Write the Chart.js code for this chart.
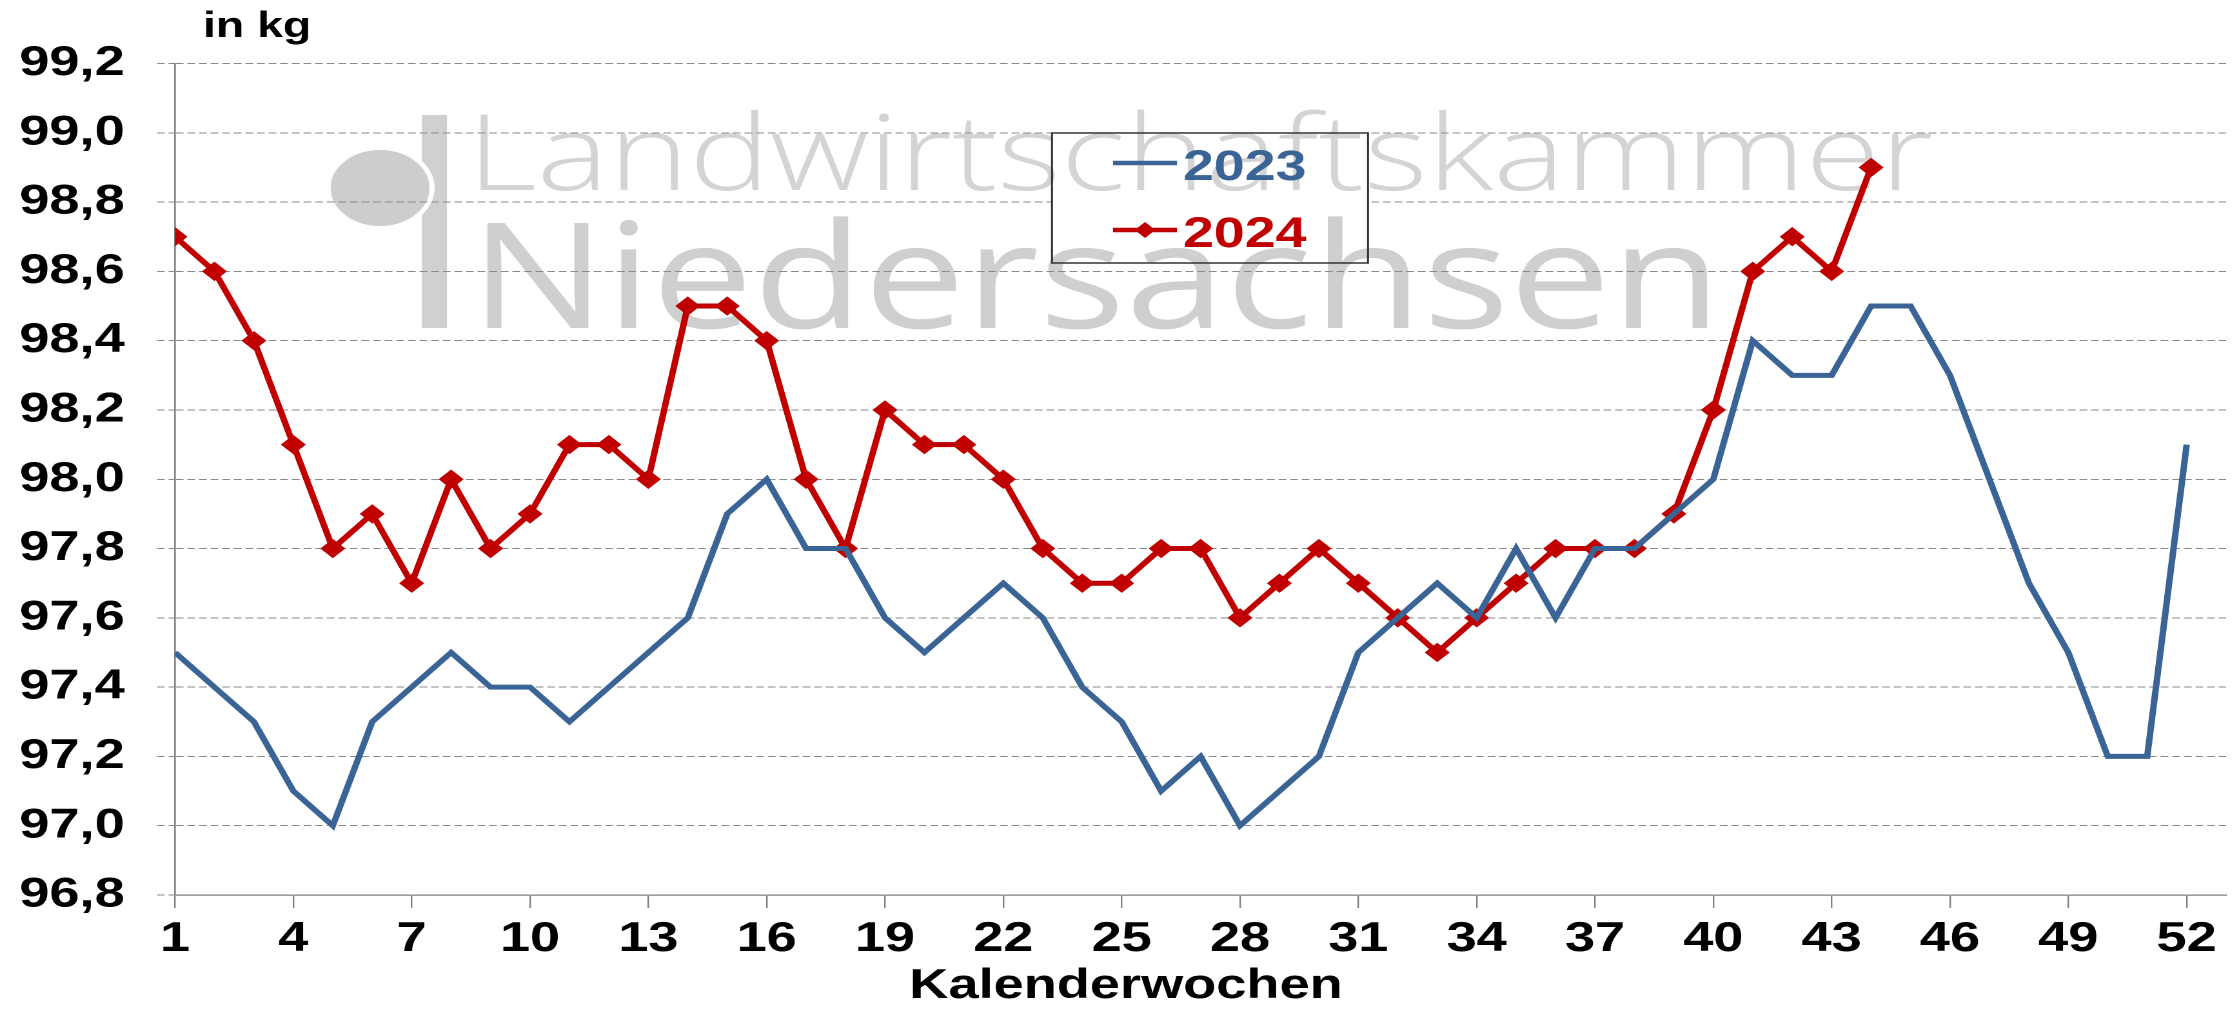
<!DOCTYPE html>
<html>
<head>
<meta charset="utf-8">
<script src="https://cdn.jsdelivr.net/npm/chart.js@4/dist/chart.umd.min.js"></script>
<style>
  html, body { margin: 0; padding: 0; background: #ffffff; overflow: hidden; }
  #c { display: block; width: 2239px; height: 1009px; }
</style>
</head>
<body>
<canvas id="c" width="1736" height="1009" style="width:2239px;height:1009px;"></canvas>
<script>
// ---------------- data ----------------
const weeks = [1,2,3,4,5,6,7,8,9,10,11,12,13,14,15,16,17,18,19,20,21,22,23,24,25,26,
               27,28,29,30,31,32,33,34,35,36,37,38,39,40,41,42,43,44,45,46,47,48,49,50,51,52];
const values2023 = [97.5,97.4,97.3,97.1,97.0,97.3,97.4,97.5,97.4,97.4,97.3,97.4,97.5,97.6,97.9,98.0,
                    97.8,97.8,97.6,97.5,97.6,97.7,97.6,97.4,97.3,97.1,97.2,97.0,97.1,97.2,97.5,97.6,
                    97.7,97.6,97.8,97.6,97.8,97.8,97.9,98.0,98.4,98.3,98.3,98.5,98.5,98.3,98.0,97.7,
                    97.5,97.2,97.2,98.1];
const values2024 = [98.7,98.6,98.4,98.1,97.8,97.9,97.7,98.0,97.8,97.9,98.1,98.1,98.0,98.5,98.5,98.4,
                    98.0,97.8,98.2,98.1,98.1,98.0,97.8,97.7,97.7,97.8,97.8,97.6,97.7,97.8,97.7,97.6,
                    97.5,97.6,97.7,97.8,97.8,97.8,97.9,98.2,98.6,98.7,98.6,98.9];
const seriesLabels = ['2023', '2024'];
const xTickLabels = ['1','4','7','10','13','16','19','22','25','28','31','34','37','40','43','46','49','52'];
const yTickLabels = ['96,8','97,0','97,2','97,4','97,6','97,8','98,0','98,2','98,4','98,6','98,8','99,0','99,2'];
const unitLabel = 'in kg';
const xAxisTitle = 'Kalenderwochen';
const watermarkLine1 = 'Landwirtschaftskammer';
const watermarkLine2 = 'Niedersachsen';

// ---------------- geometry (picture is horizontally stretched) ----------------
const CANVAS_W = 1736, CANVAS_H = 1009;
const S = 2239 / CANVAS_W;          // horizontal stretch factor
const fx = v => v / S;               // full-picture x -> logical x

const BLUE = '#3b6496';
const RED = '#c00000';
const FONT = '"Liberation Sans", Arial, sans-serif';

function fitText(ctx, text, font, x1, x2, baseline, color) {
  ctx.save();
  ctx.font = font;
  ctx.textAlign = 'left';
  ctx.textBaseline = 'alphabetic';
  const m = ctx.measureText(text);
  const inkW = m.actualBoundingBoxLeft + m.actualBoundingBoxRight;
  const sx = (x2 - x1) / inkW;
  ctx.translate(x1, baseline);
  ctx.scale(sx, 1);
  ctx.fillStyle = color;
  ctx.fillText(text, m.actualBoundingBoxLeft, 0);
  ctx.restore();
}

function drawWatermark(ctx) {
  ctx.save();
  ctx.fillStyle = '#d0d0d0';
  ctx.fillRect(fx(422), 115, fx(447) - fx(422), 328 - 115);
  ctx.beginPath();
  ctx.ellipse(fx(380), 188, fx(52), 40, 0, 0, Math.PI * 2);
  ctx.fillStyle = '#cdcdcd';
  ctx.fill();
  ctx.lineWidth = 4;
  ctx.strokeStyle = '#ffffff';
  ctx.stroke();
  fitText(ctx, watermarkLine1, '300 105px "Open Sans"', fx(480), fx(1932), 190, '#d4d4d4');
  fitText(ctx, watermarkLine2, '400 147px "Open Sans"', fx(487), fx(1708), 328, '#cfcfcf');
  ctx.restore();
}

const decorPlugin = {
  id: 'decor',
  beforeDraw(chart) {
    const ctx = chart.ctx;
    ctx.save();
    ctx.fillStyle = '#ffffff';
    ctx.fillRect(0, 0, chart.width, chart.height);
    drawWatermark(ctx);
    ctx.restore();
  },
  afterDraw(chart) {
    const ctx = chart.ctx;
    ctx.save();
    // legend box
    const bx1 = fx(1052), bx2 = fx(1368), by1 = 133, by2 = 263;
    ctx.fillStyle = '#ffffff';
    ctx.fillRect(bx1, by1, bx2 - bx1, by2 - by1);
    ctx.save();
    ctx.beginPath();
    ctx.rect(bx1, by1, bx2 - bx1, by2 - by1);
    ctx.clip();
    drawWatermark(ctx);
    ctx.restore();
    ctx.lineWidth = 1.5;
    ctx.strokeStyle = '#333333';
    ctx.strokeRect(bx1, by1, bx2 - bx1, by2 - by1);

    const rowsY = [163, 230];
    const rowsBase = [180, 247];
    chart.data.datasets.forEach((ds, i) => {
      const y = rowsY[i];
      ctx.beginPath();
      ctx.moveTo(fx(1113), y);
      ctx.lineTo(fx(1177), y);
      ctx.lineWidth = 4.5;
      ctx.strokeStyle = ds.borderColor;
      ctx.stroke();
      if (ds.pointRadius > 0) {
        const cx = fx(1145), r = 8;
        ctx.beginPath();
        ctx.moveTo(cx - r, y); ctx.lineTo(cx, y - r); ctx.lineTo(cx + r, y); ctx.lineTo(cx, y + r);
        ctx.closePath();
        ctx.fillStyle = ds.borderColor;
        ctx.fill();
      }
      ctx.font = 'bold 43px ' + FONT;
      ctx.fillStyle = ds.borderColor;
      ctx.textAlign = 'left';
      ctx.textBaseline = 'alphabetic';
      ctx.fillText(ds.label, fx(1183), rowsBase[i]);
    });

    // unit label
    ctx.font = 'bold 36px ' + FONT;
    ctx.fillStyle = '#000000';
    ctx.textAlign = 'left';
    ctx.textBaseline = 'alphabetic';
    ctx.fillText(unitLabel, fx(203), 37);

    // x-axis title
    ctx.font = 'bold 42px ' + FONT;
    ctx.textAlign = 'center';
    ctx.fillText(xAxisTitle, fx(1126), 998);
    ctx.restore();
  }
};

const toPoints = vals => vals.map((v, i) => ({ x: weeks[i], y: v }));

new Chart(document.getElementById('c'), {
  type: 'line',
  data: {
    datasets: [
      {
        label: seriesLabels[0],
        data: toPoints(values2023),
        borderColor: BLUE,
        backgroundColor: BLUE,
        borderWidth: 5,
        pointRadius: 0,
        pointHoverRadius: 0,
        tension: 0,
        fill: false
      },
      {
        label: seriesLabels[1],
        data: toPoints(values2024),
        borderColor: RED,
        backgroundColor: RED,
        borderWidth: 5,
        pointStyle: 'rectRot',
        pointRadius: 9,
        pointHoverRadius: 9,
        pointBorderWidth: 1,
        pointBackgroundColor: RED,
        pointBorderColor: RED,
        tension: 0,
        fill: false
      }
    ]
  },
  options: {
    responsive: false,
    devicePixelRatio: 2,
    animation: false,
    events: [],
    layout: { padding: { top: 63.5, right: CANVAS_W - fx(2229), left: 0, bottom: 0 } },
    plugins: {
      legend: { display: false },
      tooltip: { enabled: false },
      title: { display: false }
    },
    scales: {
      x: {
        type: 'linear',
        min: 1,
        max: 53,
        afterBuildTicks(scale) {
          scale.ticks = xTickLabels.map(t => ({ value: Number(t) }));
        },
        afterFit(scale) { scale.height = CANVAS_H - 895; },
        ticks: {
          autoSkip: false,
          maxRotation: 0,
          padding: 6,
          color: '#000000',
          font: { family: FONT, size: 42, weight: 'bold' },
          callback: (v, i) => xTickLabels[i]
        },
        grid: {
          drawOnChartArea: false,
          drawTicks: true,
          tickLength: 13,
          color: '#808080',
          lineWidth: 1.2
        },
        border: { display: true, color: '#808080', width: 1.3 }
      },
      y: {
        type: 'linear',
        min: 96.8,
        max: 99.2,
        afterBuildTicks(scale) {
          scale.ticks = yTickLabels.map(t => ({ value: parseFloat(t.replace(',', '.')) }));
        },
        afterFit(scale) { scale.width = fx(175); },
        ticks: {
          padding: 25,
          color: '#000000',
          font: { family: FONT, size: 42, weight: 'bold' },
          callback: (v, i) => yTickLabels[i]
        },
        grid: {
          color: '#8a8a8a',
          lineWidth: 1,
          tickLength: 14,
          tickBorderDash: [6, 3]
        },
        border: { display: true, color: '#808080', width: 1.3, dash: [6, 3] }
      }
    }
  },
  plugins: [decorPlugin]
});
</script>
</body>
</html>
